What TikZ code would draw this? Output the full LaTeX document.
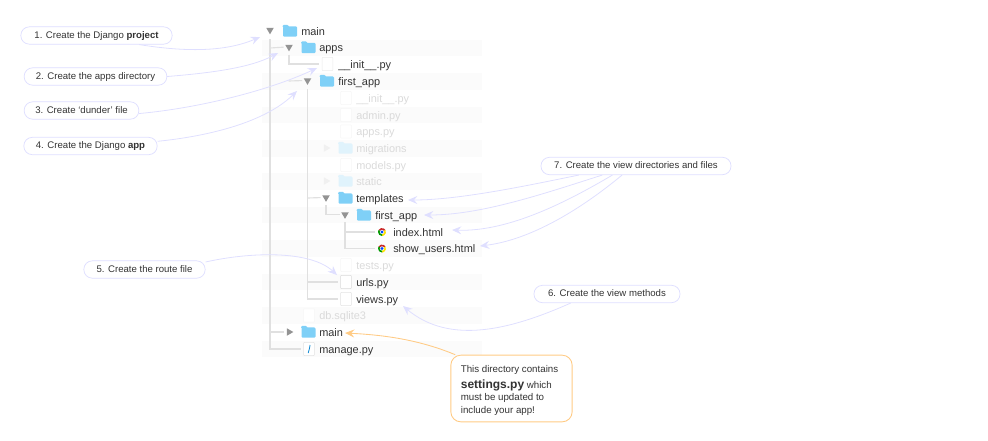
\documentclass[tikz,border=0pt]{standalone}
\usepackage{fontspec}
\setmainfont{Liberation Sans}
\usetikzlibrary{arrows.meta,shapes.geometric,backgrounds}
\definecolor{lav}{HTML}{DFDFFF}
\definecolor{orng}{HTML}{FFCB85}
\definecolor{treeg}{HTML}{E0E0E0}
\definecolor{stripe}{HTML}{FBFBFB}
\definecolor{fold}{HTML}{7FD0F7}
\definecolor{foldf}{HTML}{E0F3FC}
\definecolor{dark}{HTML}{333333}
\definecolor{faded}{HTML}{DADADA}
\tikzset{
 x=.75pt,y=-.75pt,
 pill/.style={draw=lav,line width=.55pt,fill=white,rounded corners=6.3pt,minimum height=13pt,inner sep=0pt,text height=5.3pt,text depth=1.5pt,font=\fontsize{7.2}{9}\selectfont,text=dark},
 note/.style={draw=orng,line width=.65pt,fill=white,rounded corners=7.5pt,inner sep=0pt,font=\fontsize{7.3}{9}\selectfont,text=dark},
 callarrow/.style={draw=lav,line width=.6pt,-{Stealth[length=7pt,width=6pt,inset=2.5pt]}},
 notearrow/.style={draw=orng,line width=.65pt,-{Stealth[length=7pt,width=6pt,inset=2.5pt]}},
 treeline/.style={draw=treeg,line width=.85pt,shorten >=2pt},
 rowtext/.style={anchor=west,inner sep=0pt,yshift=-1pt,text height=6pt,text depth=1.7pt,font=\fontsize{8.2}{10}\selectfont,text=dark},
 fadedtext/.style={rowtext,text=faded},
 tridown/.style={regular polygon,regular polygon sides=3,shape border rotate=180,fill=#1,inner sep=0pt,minimum size=6.5pt},
 triright/.style={regular polygon,regular polygon sides=3,shape border rotate=-90,fill=#1,inner sep=0pt,minimum size=6.5pt},
 fileicon/.style={draw=#1,fill=white,line width=.4pt,inner sep=0pt,rounded corners=.5pt,minimum width=8pt,minimum height=10pt},
 foldericon/.style={fill=#1,rounded corners=.8pt,inner sep=0pt,minimum width=10.5pt,minimum height=7.6pt},
 chromeicon/.style={circle,fill=white,inner sep=0pt,minimum size=6pt},
}
\newcommand{\foldertab}[2]{\fill[#2,rounded corners=.6pt] ([yshift=-1pt]#1.north west) -- ([yshift=.9pt]#1.north west) -- ([xshift=4pt,yshift=.9pt]#1.north west) -- ([xshift=5pt,yshift=-1pt]#1.north west) -- cycle;}
\newcommand{\chromedraw}[1]{%
 \fill[red!75!black!85] (#1) -- ++(150:3pt) arc (150:30:3pt) -- cycle;
 \fill[yellow!85!orange] (#1) -- ++(30:3pt) arc (30:-90:3pt) -- cycle;
 \fill[green!60!black] (#1) -- ++(-90:3pt) arc (-90:-210:3pt) -- cycle;
 \fill[white] (#1) circle (1.6pt);
 \fill[blue!70!cyan] (#1) circle (1.15pt);}
\begin{document}
\begin{tikzpicture}
\useasboundingbox (0,0) rectangle (988,440);

% callouts
\node[pill,minimum width=113.5pt] (c1) at (96.5,35.5) {1. Create the Django \textbf{project}};
\node[pill,minimum width=107pt] (c2) at (95.5,76.5) {2. Create the apps directory};
\node[pill,minimum width=86pt] (c3) at (81.5,110.5) {3. Create ‘dunder’ file};
\node[pill,minimum width=100pt] (c4) at (90.5,146) {4. Create the Django \textbf{app}};
\node[pill,minimum width=91pt] (c5) at (144.5,269.5) {5. Create the route file};
\node[pill,minimum width=109.5pt] (c6) at (607,294) {6. Create the view methods};
\node[pill,minimum width=142.5pt] (c7) at (636,166) {7. Create the view directories and files};
\node[note,minimum width=91pt,minimum height=50pt] (n1) at (511.5,388.5) {\begin{minipage}{76pt}\raggedright\vspace*{3pt}This directory contains\\[2.4pt]{\fontsize{9}{9}\selectfont\textbf{settings.py}} which\\[.4pt]must be updated to\\[.4pt]include your app!\end{minipage}};

% triangles
\node[tridown=gray!85] (t1) at (270,30) {};
\node[tridown=gray!85] (t2) at (289,47) {};
\node[tridown=gray!85] (t4) at (307.5,80.5) {};
\node[triright=gray!12] (t8) at (326,148) {};
\node[triright=gray!12] (t10) at (326,181) {};
\node[tridown=gray!85] (t11) at (326,197.5) {};
\node[tridown=gray!85] (t12) at (345,214.5) {};
\node[triright=gray!85] (t19) at (289,332) {};

% folders
\foreach \nm/\px/\py/\col in {i1/290/31.5/fold,i2/308.5/48/fold,i4/327/81.5/fold,i8/345.5/148.5/foldf,i10/345.5/181.5/foldf,i11/345.5/198.5/fold,i12/364/215.5/fold,i19/308.5/332.5/fold}{
 \node[foldericon=\col] (\nm) at (\px,\py) {};
 \foldertab{\nm}{\col}
}
% files
\foreach \nm/\px/\py/\col in {i3/327.5/64/gray!16,i5/346/98/gray!7,i6/346/115/gray!7,i7/346/131.5/gray!7,i9/346/165/gray!7,i15/346/265/gray!7,i16/346/282/gray!28,i17/346/299/gray!22,i18/309/315.5/gray!7,i20/309/349/gray!22}{
 \node[fileicon=\col] (\nm) at (\px,\py) {};
}
\draw[cyan!70!blue,line width=.6pt] ([xshift=-.6pt,yshift=-3pt]i20.center) .. controls ([xshift=.3pt,yshift=-1pt]i20.center) and ([xshift=.3pt,yshift=1pt]i20.center) .. ([xshift=.8pt,yshift=3pt]i20.center);
% chrome
\node[chromeicon] (i13) at (382,232) {};
\node[chromeicon] (i14) at (382,248.5) {};
\chromedraw{i13.center}
\chromedraw{i14.center}

% row labels
\node[rowtext] (r1) at (301,31) {main};
\node[rowtext] (r2) at (319,47.5) {apps};
\node[rowtext] (r3) at (338,64.5) {\_\_init\_\_.py};
\node[rowtext] (r4) at (338,81) {first\_app};
\node[fadedtext] (r5) at (356,98) {\_\_init\_\_.py};
\node[fadedtext] (r6) at (356,115) {admin.py};
\node[fadedtext] (r7) at (356,131.5) {apps.py};
\node[fadedtext] (r8) at (356,148) {migrations};
\node[fadedtext] (r9) at (356,165) {models.py};
\node[fadedtext] (r10) at (356,181.5) {static};
\node[rowtext] (r11) at (356,198) {templates};
\node[rowtext] (r12) at (375,215) {first\_app};
\node[rowtext] (r13) at (393,232) {index.html};
\node[rowtext] (r14) at (393,248.5) {show\_users.html};
\node[fadedtext] (r15) at (356,265.5) {tests.py};
\node[rowtext] (r16) at (356,282) {urls.py};
\node[rowtext] (r17) at (356,299) {views.py};
\node[fadedtext] (r18) at (319,315.5) {db.sqlite3};
\node[rowtext] (r19) at (319,332) {main};
\node[rowtext] (r20) at (319,349) {manage.py};

% arrow targets
\coordinate (e1) at (260,37);
\coordinate (e2) at (278,53);
\coordinate (e3) at (317,68);
\coordinate (e4) at (297,91);
\coordinate (e5) at (337,275);
\coordinate (e6) at (403,306);
\coordinate (e7a) at (408,200);
\coordinate (e7b) at (424,215);
\coordinate (e7c) at (452,230);
\coordinate (e7d) at (480,246);
\coordinate (e8) at (345,333);

\begin{scope}[on background layer]
% stripes
\foreach \sy in {39.5,73,106.5,140,173,206.5,240,273.5,307,340.5}{
 \fill[stripe] (262,\sy) rectangle (482,\sy+16.8);
}
% tree
\draw[treeline,shorten <=3pt] (t1.south) |- (i20.west);
\draw[treeline] (270,48) -- (t2.west);
\draw[treeline] (270,332) -- (t19.west);
\draw[treeline,shorten <=2pt] (t2.south) |- (i3.west);
\draw[treeline] (288.5,81) -- (t4.west);
\draw[treeline,shorten <=3pt] (t4.south) |- (i17.west);
\draw[treeline] (307.5,198) -- (t11.west);
\draw[treeline] (307.5,282) -- (i16.west);
\draw[treeline,shorten <=2pt] (t11.south) |- (t12.west);
\draw[treeline,shorten <=2pt] (t12.south) |- (i14.west);
\draw[treeline] (345,232) -- (i13.west);
% arrows
\draw[callarrow] (c1.-12) .. controls (185,52) and (225,52) .. (e1);
\draw[callarrow] (c2.east) .. controls (210,73) and (250,68) .. (e2);
\draw[callarrow] (c3.-3) .. controls (200,108) and (270,90) .. (e3);
\draw[callarrow] (c4.4) .. controls (210,136) and (265,122) .. (e4);
\draw[callarrow] (c5.7.5) .. controls (250,252) and (310,250) .. (e5);
\draw[callarrow] (c6.194) .. controls (510,330) and (450,345) .. (e6);
\draw[callarrow] (c7.189) .. controls (530,185) and (460,200) .. (e7a);
\draw[callarrow] (c7.195) .. controls (540,195) and (480,215) .. (e7b);
\draw[callarrow] (c7.201) .. controls (570,200) and (510,232) .. (e7c);
\draw[callarrow] (c7.213) .. controls (580,210) and (530,240) .. (e7d);
\draw[notearrow] (n1.149) .. controls (420,340) and (385,335) .. (e8);
\end{scope}
\end{tikzpicture}
\end{document}
